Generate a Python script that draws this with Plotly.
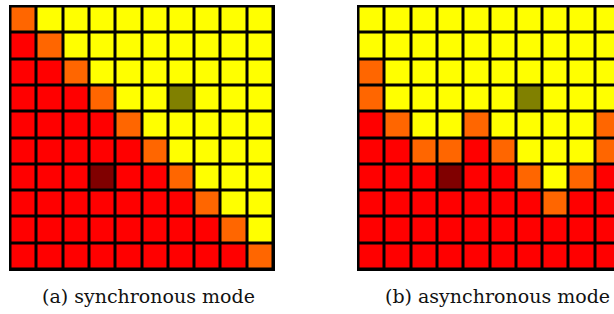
import plotly.graph_objects as go

# cell states: 0=red, 1=orange, 2=yellow, 3=dark red, 4=olive
sync_grid = [
    [1, 2, 2, 2, 2, 2, 2, 2, 2, 2],
    [0, 1, 2, 2, 2, 2, 2, 2, 2, 2],
    [0, 0, 1, 2, 2, 2, 2, 2, 2, 2],
    [0, 0, 0, 1, 2, 2, 4, 2, 2, 2],
    [0, 0, 0, 0, 1, 2, 2, 2, 2, 2],
    [0, 0, 0, 0, 0, 1, 2, 2, 2, 2],
    [0, 0, 0, 3, 0, 0, 1, 2, 2, 2],
    [0, 0, 0, 0, 0, 0, 0, 1, 2, 2],
    [0, 0, 0, 0, 0, 0, 0, 0, 1, 2],
    [0, 0, 0, 0, 0, 0, 0, 0, 0, 1],
]
async_grid = [
    [2, 2, 2, 2, 2, 2, 2, 2, 2, 2],
    [2, 2, 2, 2, 2, 2, 2, 2, 2, 2],
    [1, 2, 2, 2, 2, 2, 2, 2, 2, 2],
    [1, 2, 2, 2, 2, 2, 4, 2, 2, 2],
    [0, 1, 2, 2, 1, 2, 2, 2, 2, 1],
    [0, 0, 1, 1, 0, 1, 2, 2, 2, 1],
    [0, 0, 0, 3, 0, 0, 1, 2, 1, 0],
    [0, 0, 0, 0, 0, 0, 0, 1, 0, 0],
    [0, 0, 0, 0, 0, 0, 0, 0, 0, 0],
    [0, 0, 0, 0, 0, 0, 0, 0, 0, 0],
]
captions = ["(a) synchronous mode", "(b) asynchronous mode"]

state_colors = ["#ff0000", "#ff6600", "#ffff00", "#800000", "#808000"]
n = len(state_colors)
colorscale = []
for i, c in enumerate(state_colors):
    lo = max(0.0, (i - 0.5) / (n - 1))
    hi = min(1.0, (i + 0.5) / (n - 1))
    colorscale.append([lo, c])
    colorscale.append([hi, c])

W, H = 614, 314
fig = go.Figure()

def add_grid(grid, xa, ya):
    fig.add_trace(go.Heatmap(
        z=grid, xaxis=xa, yaxis=ya, colorscale=colorscale, zmin=0, zmax=n - 1,
        showscale=False, xgap=3, ygap=3, hoverinfo="skip"))

add_grid(sync_grid, "x", "y")
add_grid(async_grid, "x2", "y2")

pad = 0.057
ppu = 266 / (10 + 2 * pad)
top, bottom = 5, 271
ydom = [1 - bottom / H, 1 - top / H]
ax_common = dict(showgrid=False, zeroline=False, showticklabels=False, ticks="", fixedrange=True)

fig.update_layout(
    width=W, height=H, margin=dict(l=0, r=0, t=0, b=0),
    paper_bgcolor="white", plot_bgcolor="black",
    xaxis=dict(domain=[9 / W, 275 / W], range=[-0.5 - pad, 9.5 + pad], **ax_common),
    yaxis=dict(domain=ydom, range=[9.5 + pad, -0.5 - pad], **ax_common),
    xaxis2=dict(domain=[357 / W, 1], range=[-0.5 - pad, -0.5 - pad + (W - 357) / ppu],
                anchor="y2", **ax_common),
    yaxis2=dict(domain=ydom, range=[9.5 + pad, -0.5 - pad], anchor="x2", **ax_common),
    showlegend=False,
)

for cap, xc in zip(captions, [148.5, 497]):
    fig.add_annotation(text=cap, x=xc / W, y=1 - 295.5 / H, xref="paper", yref="paper",
                       showarrow=False, xanchor="center", yanchor="middle",
                       font=dict(family="DejaVu Serif, Liberation Serif, serif", size=19,
                                 color="#111111"))

fig.write_html("out.html", config={"displayModeBar": False},
               post_script="document.body.style.margin='0';")
